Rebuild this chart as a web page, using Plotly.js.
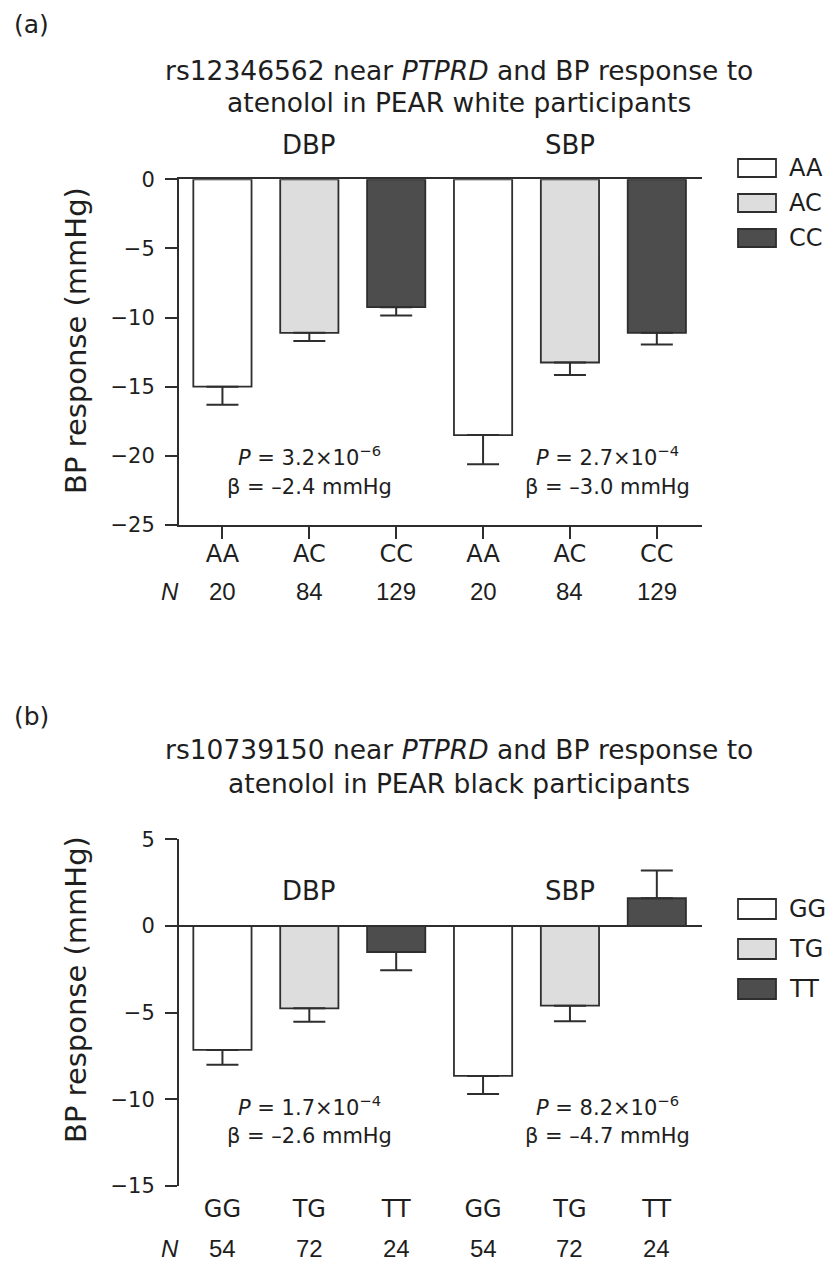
<!DOCTYPE html>
<html>
<head>
<meta charset="utf-8">
<script src="https://cdn.plot.ly/plotly-3.0.1.min.js"></script>
<style>
  html, body { margin: 0; padding: 0; background: #fff; }
  #chart { width: 832px; height: 1263px; }
</style>
</head>
<body>
<div id="chart"></div>
<script>
// ---------- data ----------
const panelLabels = ['(a)', '(b)'];
const titleLinesA = ['rs12346562 near <i>PTPRD</i> and BP response to', 'atenolol in PEAR white participants'];
const titleLinesB = ['rs10739150 near <i>PTPRD</i> and BP response to', 'atenolol in PEAR black participants'];
const groups = ['DBP', 'SBP'];

const genotypesA = ['AA', 'AC', 'CC'];
const nA = [20, 84, 129];
const dbpA = [-15.0, -11.1, -9.25];
const dbpErrA = [1.3, 0.6, 0.6];
const sbpA = [-18.5, -13.25, -11.1];
const sbpErrA = [2.1, 0.9, 0.85];
const statsA = [['<i>P</i> = 3.2×10<sup>−6</sup>', 'β = –2.4 mmHg'], ['<i>P</i> = 2.7×10<sup>−4</sup>', 'β = –3.0 mmHg']];

const genotypesB = ['GG', 'TG', 'TT'];
const nB = [54, 72, 24];
const dbpB = [-7.15, -4.75, -1.5];
const dbpErrB = [0.85, 0.77, 1.05];
const sbpB = [-8.65, -4.6, 1.6];
const sbpErrB = [1.05, 0.9, 1.6];
const statsB = [['<i>P</i> = 1.7×10<sup>−4</sup>', 'β = –2.6 mmHg'], ['<i>P</i> = 8.2×10<sup>−6</sup>', 'β = –4.7 mmHg']];

const yTicksA = [0, -5, -10, -15, -20, -25];
const yTicksB = [5, 0, -5, -10, -15];
const yTitle = 'BP response (mmHg)';

// ---------- style ----------
const W = 832, H = 1263;
const fills = ['#ffffff', '#dddddd', '#4d4d4d'];
const ink = '#2e2e2e';
const txt = '#1e1e1e';
const FONT = 'DejaVu Sans, Arial, sans-serif';
const FONT2 = 'Liberation Sans, Arial, sans-serif';
const px = v => v / W;
const py = v => 1 - v / H;

function makeTraces(genos, dbp, dbpErr, sbp, sbpErr, xa, ya) {
  return genos.map((g, i) => {
    const vals = [dbp[i], sbp[i]];
    const errs = [dbpErr[i], sbpErr[i]];
    return {
      type: 'bar', name: g, x: [i, i + 3], y: vals, xaxis: xa, yaxis: ya,
      width: 0.67, showlegend: false,
      marker: { color: fills[i], line: { color: ink, width: 1.8 } },
      error_y: {
        type: 'data', symmetric: false,
        array: vals.map((v, k) => v >= 0 ? errs[k] : 0),
        arrayminus: vals.map((v, k) => v < 0 ? errs[k] : 0),
        color: ink, thickness: 2, width: 16
      }
    };
  });
}

const traces = [
  ...makeTraces(genotypesA, dbpA, dbpErrA, sbpA, sbpErrA, 'x', 'y'),
  ...makeTraces(genotypesB, dbpB, dbpErrB, sbpB, sbpErrB, 'x2', 'y2')
];

const xDomain = [px(179), px(702)];
const xRange = [-0.5, 5.52];
const catIdx = [0, 1, 2, 3, 4, 5];

const ann = [];
const shapes = [];
function addText(text, x, y, opts) {
  ann.push(Object.assign({ text, x, y, xref: 'paper', yref: 'paper', showarrow: false,
    xanchor: 'center', yanchor: 'middle', font: { family: FONT, size: 22, color: txt } }, opts || {}));
}

// panel labels
addText(panelLabels[0], px(12), py(25), { xanchor: 'left', font: { family: FONT, size: 25, color: txt } });
addText(panelLabels[1], px(12), py(716), { xanchor: 'left', font: { family: FONT, size: 25, color: txt } });
// titles
const tf = { family: FONT, size: 26.5, color: txt };
addText(titleLinesA[0], px(459), py(70), { font: tf });
addText(titleLinesA[1], px(459), py(103), { font: tf });
addText(titleLinesB[0], px(459), py(749), { font: tf });
addText(titleLinesB[1], px(459), py(783), { font: tf });

// y-axis titles
const ttf = { family: FONT, size: 29, color: txt };
addText(yTitle, px(76), py(341), { textangle: -90, font: ttf });
addText(yTitle, px(76), py(990), { textangle: -90, font: ttf });

// group labels
const gf = { family: FONT, size: 26, color: txt };
addText(groups[0], 1, py(145), { xref: 'x', font: gf });
addText(groups[1], 4, py(145), { xref: 'x', font: gf });
addText(groups[0], 1, 2, { xref: 'x2', yref: 'y2', font: gf });
addText(groups[1], 4, 2, { xref: 'x2', yref: 'y2', font: gf });

// stats
const sf = { family: FONT, size: 21, color: txt };
const statX = [1.0, 4.43];
statsA.forEach((s, k) => {
  addText(s[0], statX[k], -20.0, { xref: 'x', yref: 'y', font: sf });
  addText(s[1], statX[k], -22.25, { xref: 'x', yref: 'y', font: sf });
});
statsB.forEach((s, k) => {
  addText(s[0], statX[k], -10.4, { xref: 'x2', yref: 'y2', font: sf });
  addText(s[1], statX[k], -12.13, { xref: 'x2', yref: 'y2', font: sf });
});

// N rows
const nf = { family: FONT2, size: 24, color: txt };
addText('<i>N</i>', px(170), py(591), { font: nf });
addText('<i>N</i>', px(170), py(1248), { font: nf });
catIdx.forEach(i => {
  addText(String(nA[i % 3]), i, py(591), { xref: 'x', font: nf });
  addText(String(nB[i % 3]), i, py(1248), { xref: 'x2', font: nf });
});

// legends (custom boxes)
function addLegend(genos, cy0, step, h) {
  genos.forEach((g, i) => {
    const cy = cy0 + step * i;
    shapes.push({ type: 'rect', xref: 'paper', yref: 'paper', x0: px(738), x1: px(776),
      y0: py(cy + h / 2), y1: py(cy - h / 2), fillcolor: fills[i], line: { color: ink, width: 1.8 } });
    addText(g, px(787), py(cy), { xanchor: 'left', font: { family: FONT, size: 24, color: txt } });
  });
}
addLegend(genotypesA, 168, 35, 18);
addLegend(genotypesB, 909, 40, 20);

const axCommon = {
  showgrid: false, linecolor: ink, linewidth: 2, tickcolor: ink, tickwidth: 2,
  ticks: 'outside', ticklen: 12
};
const ytf = { family: FONT, size: 21, color: txt };
const xtf = { family: FONT, size: 24, color: txt };

const layout = {
  width: W, height: H,
  margin: { l: 0, r: 0, t: 0, b: 0 },
  paper_bgcolor: '#fff', plot_bgcolor: 'rgba(0,0,0,0)',
  barmode: 'overlay',
  showlegend: false,
  xaxis: Object.assign({}, axCommon, {
    domain: xDomain, range: xRange, anchor: 'y',
    tickvals: catIdx, ticktext: catIdx.map(i => genotypesA[i % 3]),
    showline: true, mirror: true, zeroline: false,
    ticklabelstandoff: -6,
    tickfont: xtf
  }),
  yaxis: Object.assign({}, axCommon, {
    domain: [py(525), py(179.3)], range: [-25, 0], anchor: 'x',
    tickvals: yTicksA, showline: true, zeroline: false,
    ticklabelstandoff: 6,
    tickfont: ytf
  }),
  xaxis2: Object.assign({}, axCommon, {
    domain: xDomain, range: xRange, anchor: 'y2',
    tickvals: catIdx, ticktext: catIdx.map(i => genotypesB[i % 3]),
    showline: false, zeroline: false, tickcolor: 'rgba(0,0,0,0)', ticklen: 1,
    tickfont: xtf
  }),
  yaxis2: Object.assign({}, axCommon, {
    domain: [py(1186), py(839.3)], range: [-15, 5], anchor: 'x2',
    tickvals: yTicksB, showline: true, zeroline: true, zerolinecolor: ink, zerolinewidth: 2,
    ticklabelstandoff: 6,
    tickfont: ytf
  }),
  annotations: ann,
  shapes: shapes
};

Plotly.newPlot('chart', traces, layout, { displayModeBar: false, staticPlot: true });
</script>
</body>
</html>
